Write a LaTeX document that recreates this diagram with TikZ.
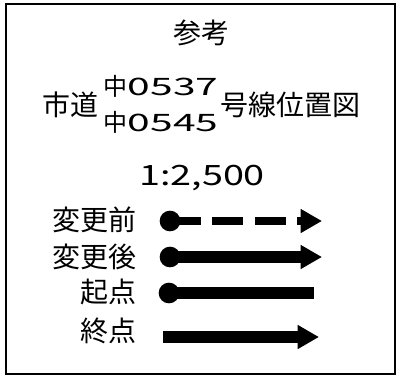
\documentclass[tikz,border=0pt]{standalone}
\usepackage{fontspec}
\usepackage{graphicx}
\setmainfont{Noto Sans CJK JP}
\usetikzlibrary{arrows.meta}
\tikzset{
  rahmen/.style={draw=black,line width=1.5pt},
  txt/.style={inner sep=0pt,font=\fontsize{21pt}{25pt}\selectfont},
  txtk/.style={inner sep=0pt,font=\fontsize{18pt}{22pt}\selectfont},
  lbl/.style={txt,anchor=east},
  punkt/.style={circle,fill=black,inner sep=0pt,minimum size=15.5pt},
  linie/.style={black,line width=8.5pt},
  pfeil/.style={linie,-{Triangle[length=16pt,width=17pt]}},
  strich/.style={pfeil,line width=6.5pt,dash pattern=on 23.25pt off 8.5pt},
}
\newcommand{\breit}[2]{\scalebox{#1}[1]{#2}}

\begin{document}
\begin{tikzpicture}[x=0.75pt,y=-0.75pt]
  \useasboundingbox (0,0) rectangle (398,378);
  \draw[rahmen] (6,4) rectangle (395,374);
  % Titel
  \node[txt] (titel) at (201,33) {参考};
  \node[txt] (strasse) at (70,105) {市道};
  \node[txtk] (nr1) at (161,86) {中\breit{1.7}{0537}};
  \node[txtk] (nr2) at (161,122) {中\breit{1.7}{0545}};
  \node[txt] (plan) at (290,105) {号線位置図};
  \node[txt] (massstab) at (202,178) {\breit{1.35}{1:2,500}};
  % Legende
  \node[lbl] (vor) at (137,220) {変更前};
  \node[lbl] (nach) at (137,257) {変更後};
  \node[lbl] (start) at (137,292) {起点};
  \node[lbl] (ende) at (137,331) {終点};
  \node[punkt] (p1) at (170,221) {};
  \node[punkt] (p2) at (170,257) {};
  \node[punkt] (p3) at (169,293) {};
  \coordinate (e1) at (322,221);
  \coordinate (e2) at (322,257);
  \coordinate (e3) at (314,293);
  \coordinate (a4) at (163,337);
  \coordinate (e4) at (319,337);
  \draw[strich] (p1.center) -- (e1);
  \draw[pfeil] (p2.center) -- (e2);
  \draw[linie] (p3.center) -- (e3);
  \draw[pfeil] (a4) -- (e4);
\end{tikzpicture}
\end{document}
